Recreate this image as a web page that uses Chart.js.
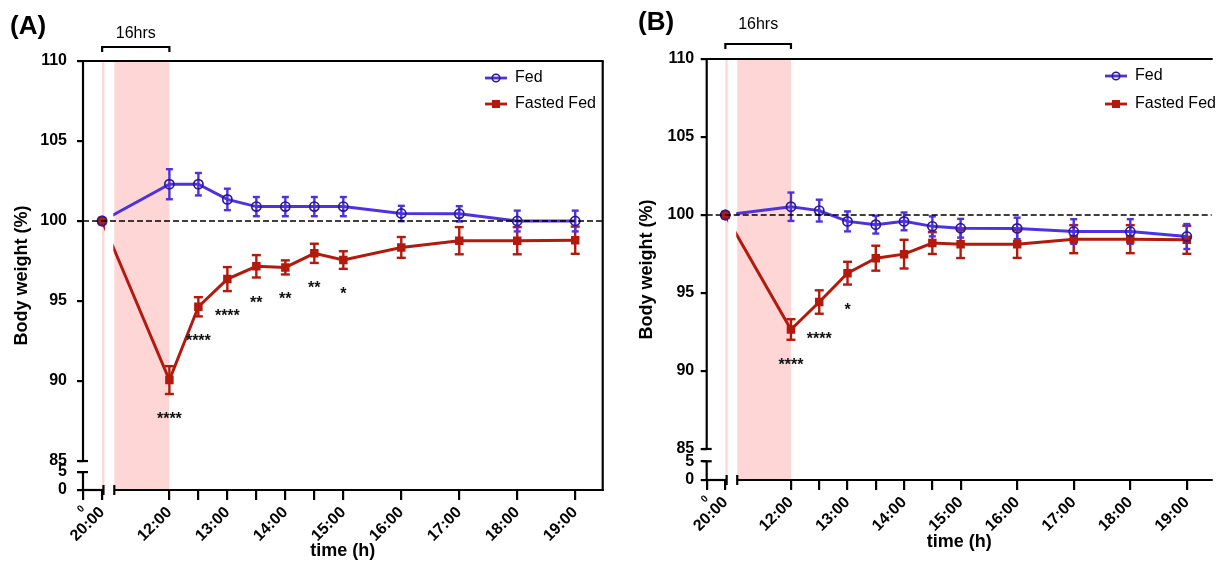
<!DOCTYPE html>
<html>
<head>
<meta charset="utf-8">
<script src="https://cdn.jsdelivr.net/npm/chart.js@4.4.0/dist/chart.umd.min.js"></script>
<style>
  body{margin:0;background:#fff;}
  #wrap{position:relative;width:1218px;height:562px;overflow:hidden;}
  .panel{position:absolute;top:0;width:609px;height:562px;}
</style>
</head>
<body>
<div id="wrap">
  <div class="panel" style="left:0"><canvas id="chartA" width="609" height="562"></canvas></div>
  <div class="panel" style="left:609px"><canvas id="chartB" width="609" height="562"></canvas></div>
</div>
<script>
// time points (hours after 12:00; 20:00 sits left of the axis break)
const timeLabels = ["20:00","12:00","12:30","13:00","13:30","14:00","14:30","15:00","16:00","17:00","18:00","19:00"];
const timePos = [-1.16, 0, 0.5, 1, 1.5, 2, 2.5, 3, 4, 5, 6, 7];

const fedA = [100, 102.3, 102.3, 101.35, 100.9, 100.9, 100.9, 100.9, 100.47, 100.45, 100.0, 100.0];
const fedA_sem = [0, 0.94, 0.7, 0.67, 0.6, 0.6, 0.6, 0.6, 0.48, 0.48, 0.65, 0.65];
const fastedA = [100, 90.06, 94.64, 96.37, 97.17, 97.1, 97.98, 97.56, 98.35, 98.77, 98.77, 98.8];
const fastedA_sem = [0, 0.87, 0.6, 0.75, 0.7, 0.44, 0.6, 0.55, 0.65, 0.85, 0.85, 0.85];
const sigA = ["", "****", "****", "****", "**", "**", "**", "*", "", "", "", ""];

const fedB = [100, 100.53, 100.28, 99.59, 99.38, 99.59, 99.27, 99.15, 99.14, 98.94, 98.94, 98.62];
const fedB_sem = [0, 0.91, 0.7, 0.64, 0.57, 0.57, 0.64, 0.6, 0.69, 0.79, 0.79, 0.8];
const fastedB = [100, 92.66, 94.42, 96.27, 97.23, 97.49, 98.2, 98.13, 98.13, 98.45, 98.45, 98.41];
const fastedB_sem = [0, 0.66, 0.75, 0.73, 0.8, 0.92, 0.7, 0.89, 0.88, 0.9, 0.9, 0.9];
const sigB = ["", "****", "****", "*", "", "", "", "", "", "", "", ""];

const xMin = -1.49;
const xTickPos = [-1.49, -1.16, 0, 0.5, 1, 1.5, 2, 2.5, 3, 4, 5, 6, 7];
const xTickLabels = ["0","20:00","12:00","","13:00","","14:00","","15:00","16:00","17:00","18:00","19:00"];
const yTickValues = [0, 5, 85, 90, 95, 100, 105, 110];
const yTickLabels = ["0","5","85","90","95","100","105","110"];

// fasting window (20:00 -> 12:00) and the axis break
const breakLeft = -1.12;
const breakRight = -0.95;

const BLUE = "#4d33df";
const NAVY = "#2c1a8e";
const RED = "#b3190d";
const PINK = "#ffd6d6";
const FONT = "'Liberation Sans', Arial, sans-serif";

Chart.defaults.font.family = FONT;
Chart.defaults.color = "#000";

// broken y axis: 0..5 squeezed under 85
function toAxis(v, p){
    if(v >= 85) return v;
    return p.yLow[0] + v / 5 * (p.yLow[1] - p.yLow[0]);
}

function line(ctx, x1, y1, x2, y2){
    ctx.beginPath();
    ctx.moveTo(x1, y1);
    ctx.lineTo(x2, y2);
    ctx.stroke();
}

function drawErrors(ctx, x, y, vals, sems, color, cap){
    ctx.strokeStyle = color;
    ctx.lineWidth = 2.4;
    vals.forEach((v, i) => {
        if(!sems[i]) return;
        const px = x.getPixelForValue(timePos[i]);
        const y1 = y.getPixelForValue(v + sems[i]);
        const y2 = y.getPixelForValue(v - sems[i]);
        line(ctx, px, y1, px, y2);
        line(ctx, px - cap, y1, px + cap, y1);
        line(ctx, px - cap, y2, px + cap, y2);
    });
}

function makeOverlay(p){
    return {
        id: "overlay",
        beforeDatasetsDraw(chart){
            const {ctx, chartArea: a, scales: {x, y}} = chart;
            const xs = x.getPixelForValue(timePos[0]);
            const xl = x.getPixelForValue(breakLeft);
            const xr = x.getPixelForValue(breakRight);
            const x12 = x.getPixelForValue(timePos[1]);
            ctx.save();
            ctx.fillStyle = PINK;
            ctx.fillRect(xs, a.top, xl - xs, a.bottom - a.top);
            ctx.fillRect(xr, a.top, x12 - xr, a.bottom - a.top);
            drawErrors(ctx, x, y, p.fasted, p.fastedSem, RED, 4.5);
            drawErrors(ctx, x, y, p.fed, p.fedSem, BLUE, 3.5);
            ctx.restore();
        },
        afterDatasetsDraw(chart){
            const {ctx, chartArea: a, scales: {x, y}} = chart;
            const xl = x.getPixelForValue(breakLeft);
            const xr = x.getPixelForValue(breakRight);
            ctx.save();
            // hide the lines inside the break
            ctx.fillStyle = "#fff";
            ctx.fillRect(xl + 0.5, a.top + 1, xr - xl - 1.5, a.bottom - a.top - 1);
            for(let i = chart.data.datasets.length - 1; i >= 0; i--){
                chart.getDatasetMeta(i).data[0].draw(ctx, a);
            }
            // 100% reference
            ctx.strokeStyle = "#000";
            ctx.lineWidth = 1.7;
            ctx.setLineDash([6, 3]);
            const y100 = y.getPixelForValue(100);
            line(ctx, a.left, y100, a.right, y100);
            ctx.setLineDash([]);
            // significance
            ctx.fillStyle = "#111";
            ctx.font = "bold 16px " + FONT;
            ctx.textAlign = "center";
            ctx.textBaseline = "alphabetic";
            p.sig.forEach((s, i) => {
                if(!s) return;
                const px = x.getPixelForValue(timePos[i]);
                const py = y.getPixelForValue(p.fasted[i] - p.fastedSem[i]) + 20;
                ctx.fillText(s, px, py + 10);
            });
            ctx.restore();
        },
        afterDraw(chart){
            const {ctx, chartArea: a, scales: {x, y}} = chart;
            const xs = x.getPixelForValue(timePos[0]);
            const xl = x.getPixelForValue(breakLeft);
            const xr = x.getPixelForValue(breakRight);
            const x12 = x.getPixelForValue(timePos[1]);
            ctx.save();
            ctx.strokeStyle = "#000";
            ctx.lineWidth = 2.2;
            // y axis with break
            const y85 = y.getPixelForValue(85);
            const y5 = y.getPixelForValue(toAxis(5, p));
            line(ctx, a.left, a.top - 1, a.left, y85);
            line(ctx, a.left, y5, a.left, a.bottom + 1);
            line(ctx, a.left - 4, y85, a.left + 5, y85);
            line(ctx, a.left - 4, y5, a.left + 5, y5);
            // x axis with break
            line(ctx, a.left, a.bottom, xl - 1, a.bottom);
            line(ctx, xl - 1, a.bottom - 5, xl - 1, a.bottom + 5);
            line(ctx, xr, a.bottom, a.right + 1, a.bottom);
            line(ctx, xr, a.bottom - 5, xr, a.bottom + 5);
            // frame
            line(ctx, a.left, a.top, a.right + 1, a.top);
            if(p.rightBorder) line(ctx, a.right, a.top, a.right, a.bottom + 1);
            // 16hrs bracket
            const by = a.top - p.bracketGap;
            ctx.beginPath();
            ctx.moveTo(xs, by + 5);
            ctx.lineTo(xs, by);
            ctx.lineTo(x12, by);
            ctx.lineTo(x12, by + 5);
            ctx.stroke();
            ctx.fillStyle = "#000";
            ctx.font = "16px " + FONT;
            ctx.textAlign = "center";
            ctx.textBaseline = "middle";
            ctx.fillText("16hrs", (xs + x12) / 2, by - p.textGap);
            // legend
            const lx = p.legendX;
            const ds = chart.data.datasets;
            ctx.textAlign = "left";
            ctx.font = "16px " + FONT;
            ctx.lineWidth = 2.8;
            ctx.strokeStyle = BLUE;
            line(ctx, lx, p.legendY[0], lx + 22, p.legendY[0]);
            ctx.lineWidth = 1.6;
            ctx.strokeStyle = NAVY;
            ctx.beginPath();
            ctx.arc(lx + 11, p.legendY[0], 3.8, 0, Math.PI * 2);
            ctx.stroke();
            ctx.fillText(ds[0].label, lx + 30, p.legendY[0]);
            ctx.lineWidth = 2.8;
            ctx.strokeStyle = RED;
            line(ctx, lx, p.legendY[1], lx + 22, p.legendY[1]);
            ctx.fillStyle = RED;
            ctx.fillRect(lx + 7, p.legendY[1] - 4, 8, 8);
            ctx.fillStyle = "#000";
            ctx.fillText(ds[1].label, lx + 30, p.legendY[1]);
            // panel tag
            ctx.font = "bold 26px " + FONT;
            ctx.fillText(p.tag, p.tagX, p.tagY);
            ctx.restore();
        }
    };
}

const panels = [
    {id:"chartA", tag:"(A)", fed:fedA, fedSem:fedA_sem, fasted:fastedA, fastedSem:fastedA_sem, sig:sigA,
     xMax:7.474, yLow:[83.19, 84.31], pad:{left:0, top:61, right:6, bottom:0}, yWidth:83, xHeight:72,
     yTickPad:10, xTitlePad:0, bracketGap:14, textGap:13.5, legendX:485, legendY:[78, 104],
     tagX:10, tagY:27, rightBorder:true},
    {id:"chartB", tag:"(B)", fed:fedB, fedSem:fedB_sem, fasted:fastedB, fastedSem:fastedB_sem, sig:sigB,
     xMax:7.44, yLow:[83.01, 84.21], pad:{left:16, top:59, right:0, bottom:0}, yWidth:81.7, xHeight:82,
     yTickPad:6.5, xTitlePad:9.5, bracketGap:15, textGap:19, legendX:496, legendY:[76, 104],
     tagX:29, tagY:23, rightBorder:false}
];

panels.forEach(p => {
    new Chart(document.getElementById(p.id), {
        type: "line",
        data: {
            datasets: [
                {
                    label: "Fed",
                    data: timePos.map((t, i) => ({x: t, y: p.fed[i]})),
                    borderColor: BLUE,
                    borderWidth: 3,
                    pointStyle: "circle",
                    pointRadius: 4.6,
                    pointBorderWidth: 1.7,
                    pointBorderColor: NAVY,
                    pointBackgroundColor: "rgba(0,0,0,0)",
                    tension: 0
                },
                {
                    label: "Fasted Fed",
                    data: timePos.map((t, i) => ({x: t, y: p.fasted[i]})),
                    borderColor: RED,
                    borderWidth: 3,
                    pointStyle: "rect",
                    pointRadius: 6,
                    pointBorderWidth: 0,
                    pointBackgroundColor: RED,
                    tension: 0
                }
            ]
        },
        options: {
            responsive: false,
            maintainAspectRatio: false,
            devicePixelRatio: 1,
            animation: false,
            layout: {padding: p.pad},
            plugins: {legend: {display: false}, tooltip: {enabled: false}},
            scales: {
                x: {
                    type: "linear",
                    min: xMin,
                    max: p.xMax,
                    afterBuildTicks: s => { s.ticks = xTickPos.map(v => ({value: v})); },
                    afterFit: s => { s.height = p.xHeight; },
                    ticks: {
                        autoSkip: false,
                        minRotation: 45,
                        maxRotation: 45,
                        padding: 3,
                        color: "#000",
                        font: c => c.index === 0 ? {size: 10, weight: "bold"} : {size: 16, weight: "bold"},
                        callback: (v, i) => xTickLabels[i]
                    },
                    grid: {drawOnChartArea: false, drawTicks: true, tickLength: 10, color: "#000", lineWidth: 2.2},
                    border: {display: false},
                    title: {display: true, text: "time (h)", color: "#000",
                            font: {size: 18, weight: "bold"}, padding: {top: 0, bottom: p.xTitlePad}}
                },
                y: {
                    type: "linear",
                    min: p.yLow[0],
                    max: 110,
                    afterBuildTicks: s => { s.ticks = yTickValues.map(v => ({value: toAxis(v, p)})); },
                    afterFit: s => { s.width = p.yWidth; },
                    ticks: {
                        autoSkip: false,
                        padding: p.yTickPad,
                        color: "#000",
                        font: {size: 16, weight: "bold"},
                        callback: (v, i) => yTickLabels[i]
                    },
                    grid: {drawOnChartArea: false, drawTicks: true, tickLength: 6, color: "#000", lineWidth: 2.2},
                    border: {display: false},
                    title: {display: true, text: "Body weight (%)", color: "#000",
                            font: {size: 18, weight: "bold"}, padding: {top: 11, bottom: 0}}
                }
            }
        },
        plugins: [makeOverlay(p)]
    });
});
</script>
</body>
</html>
